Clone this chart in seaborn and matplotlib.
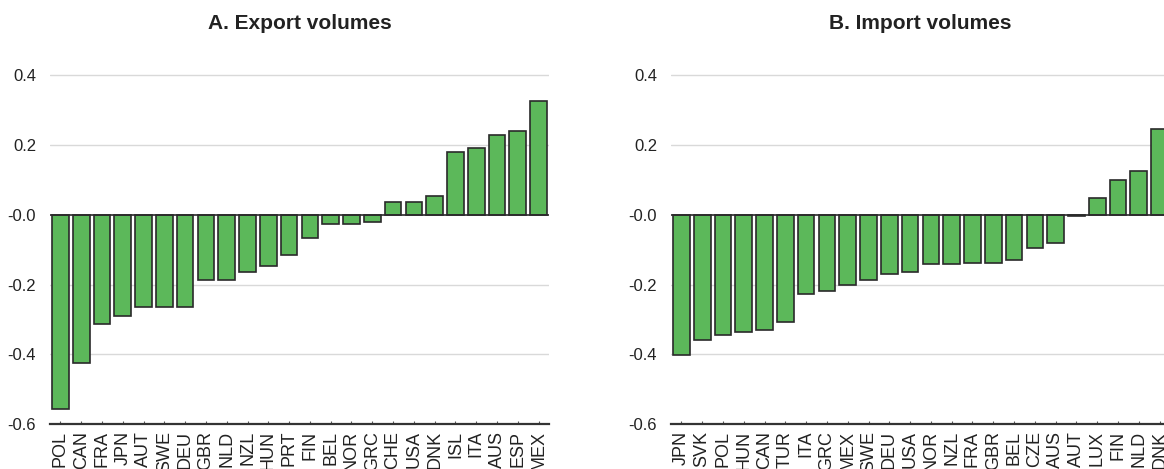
import matplotlib
matplotlib.use("Agg")
import matplotlib.pyplot as plt
import seaborn as sns
import pandas as pd

# Panel A: export volumes by country
export_countries = ["POL", "CAN", "FRA", "JPN", "AUT", "SWE", "DEU", "GBR", "NLD", "NZL",
                    "HUN", "PRT", "FIN", "BEL", "NOR", "GRC", "CHE", "USA", "DNK", "ISL",
                    "ITA", "AUS", "ESP", "MEX"]
export_values = [-0.557, -0.424, -0.312, -0.291, -0.265, -0.265, -0.265, -0.186, -0.186, -0.165,
                 -0.148, -0.115, -0.066, -0.026, -0.026, -0.021, 0.036, 0.036, 0.053, 0.180,
                 0.191, 0.228, 0.242, 0.328]

# Panel B: import volumes by country
import_countries = ["JPN", "SVK", "POL", "HUN", "CAN", "TUR", "ITA", "GRC", "MEX", "SWE",
                    "DEU", "USA", "NOR", "NZL", "FRA", "GBR", "BEL", "CZE", "AUS", "AUT",
                    "LUX", "FIN", "NLD", "DNK"]
import_values = [-0.402, -0.358, -0.344, -0.337, -0.329, -0.308, -0.228, -0.218, -0.202, -0.187,
                 -0.170, -0.164, -0.142, -0.142, -0.139, -0.139, -0.130, -0.095, -0.082, -0.003,
                 0.047, 0.099, 0.127, 0.246]

panel_titles = ["A. Export volumes", "B. Import volumes"]
y_ticks = [-0.6, -0.4, -0.2, 0.0, 0.2, 0.4]
y_tick_labels = ["-0.6", "-0.4", "-0.2", "-0.0", "0.2", "0.4"]

sns.set_theme(style="white")
plt.rcParams["font.family"] = ["Liberation Sans", "DejaVu Sans"]

BAR = "#5cb85a"
EDGE = "#2a2a2a"
TEXT = "#222222"
GRID = "#d9d9d9"

fig = plt.figure(figsize=(11.64, 4.69), dpi=100)
ax_w = 499 / 1164
ax_b = 45 / 469
ax_h = 366 / 469
axes = [fig.add_axes([50 / 1164, ax_b, ax_w, ax_h]),
        fig.add_axes([671 / 1164, ax_b, ax_w, ax_h])]

panels = [(export_countries, export_values), (import_countries, import_values)]

for ax, (cats, vals), title in zip(axes, panels, panel_titles):
    df = pd.DataFrame({"country": cats, "value": vals})
    for y in y_ticks:
        if y != 0.0:
            ax.axhline(y, color=GRID, lw=1.0, zorder=0)
    sns.barplot(data=df, x="country", y="value", order=cats, color=BAR,
                edgecolor=EDGE, linewidth=1.2, saturation=1, width=0.8, ax=ax, zorder=2)
    ax.axhline(0, color=EDGE, lw=1.2, zorder=3)
    ax.set_xlim(-0.5, len(cats) - 0.5)
    ax.set_ylim(-0.6, 0.45)
    ax.set_yticks(y_ticks)
    ax.set_yticklabels(y_tick_labels)
    ax.set_xlabel("")
    ax.set_ylabel("")
    ax.set_title(title, fontsize=15, fontweight="bold", color=TEXT, pad=21)
    ax.tick_params(axis="y", length=0, pad=10, labelsize=12, labelcolor=TEXT)
    ax.tick_params(axis="x", direction="in", length=2.5, width=0.8, color="#555555",
                   pad=5, labelsize=13, labelcolor=TEXT, rotation=90, bottom=True)
    for lbl in ax.get_xticklabels():
        lbl.set_va("top")
        lbl.set_ha("center")
    for side in ("top", "left", "right"):
        ax.spines[side].set_visible(False)
    ax.spines["bottom"].set_color("#333333")
    ax.spines["bottom"].set_linewidth(1.6)
    ax.grid(False)

fig.savefig("out.png", dpi=100)
